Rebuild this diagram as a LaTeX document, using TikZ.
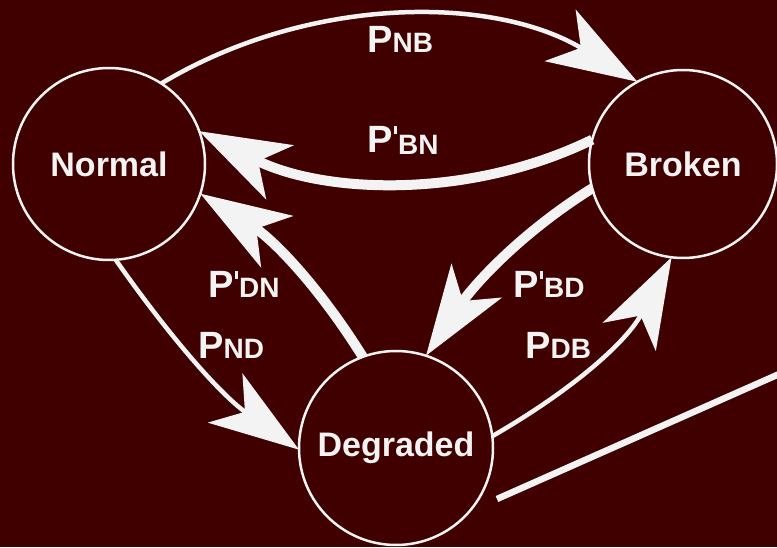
\documentclass[tikz,border=0pt]{standalone}
\usepackage{fontspec}
\setmainfont{Liberation Sans}
\usetikzlibrary{arrows.meta}
\definecolor{bgmaroon}{RGB}{64,0,0}
\definecolor{chalk}{RGB}{243,243,243}
% smaller capitals that follow the P of a transition probability
\newcommand\subtxt[1]{{\fontsize{28}{28}\selectfont #1}}
% the prime tick of P'
\newcommand\primetick{\kern1.5pt\rule[19pt]{3pt}{8pt}\kern1pt}

\begin{document}
\begin{tikzpicture}[x=1pt,y=1pt,
  state/.style={circle, draw=chalk, line width=2.5pt, inner sep=0pt, outer sep=0pt,
    text=chalk, font=\bfseries\fontsize{34}{34}\selectfont},
  prob/.style={text=chalk, font=\bfseries\fontsize{38}{38}\selectfont,
    inner sep=0pt, anchor=base west},
  bigtip/.style={-{Stealth[length=90pt,width=60pt,inset=24pt]}},
  thinarrow/.style={draw=chalk, line width=4.5pt, bigtip},
  thickarrow/.style={draw=chalk, line width=10pt, bigtip},
]
\useasboundingbox (0,0) rectangle (777,547);
\fill[bgmaroon] (0,0) rectangle (777,547);

% states
\node[state, minimum size=192pt] (N) at (109,383) {Normal};
\node[state, minimum size=188pt] (B) at (683,383) {Broken};
\node[state, minimum size=194pt] (D) at (396,99) {Degraded};

% transitions
\draw[thinarrow]  (N.57)  .. controls +(31:170)  and +(149:170) .. (B.119);
\draw[thickarrow] (B.165) .. controls +(206:138) and +(-27:138) .. (N.20);
\draw[thickarrow] (D.110) .. controls +(122:85)  and +(-32:85)  .. (N.-18);
\draw[thinarrow]  (N.274) .. controls +(-55:95)  and +(145:95)  .. (D.181);
\draw[thickarrow] (B.195) .. controls +(212:85)  and +(56:85)   .. (D.72);
\draw[thinarrow]  (D.7)   .. controls +(30:95)   and +(242:95)  .. (B.263);

% probabilities
\node[prob] (pNB)  at (367,494) {P\subtxt{NB}};
\node[prob] (pBN)  at (367,394) {P\primetick\raisebox{-2pt}{\subtxt{BN}}};
\node[prob] (pDN)  at (208,249) {P\primetick\subtxt{DN}};
\node[prob] (pND)  at (198,188) {P\subtxt{ND}};
\node[prob] (pBD)  at (513,249) {P\primetick\subtxt{BD}};
\node[prob] (pDB)  at (525,188) {P\subtxt{DB}};

% pointer line
\coordinate (s1) at (497,48);
\coordinate (s2) at (786,176);
\draw[chalk, line width=6.5pt] (s1) -- (s2);
\end{tikzpicture}
\end{document}
